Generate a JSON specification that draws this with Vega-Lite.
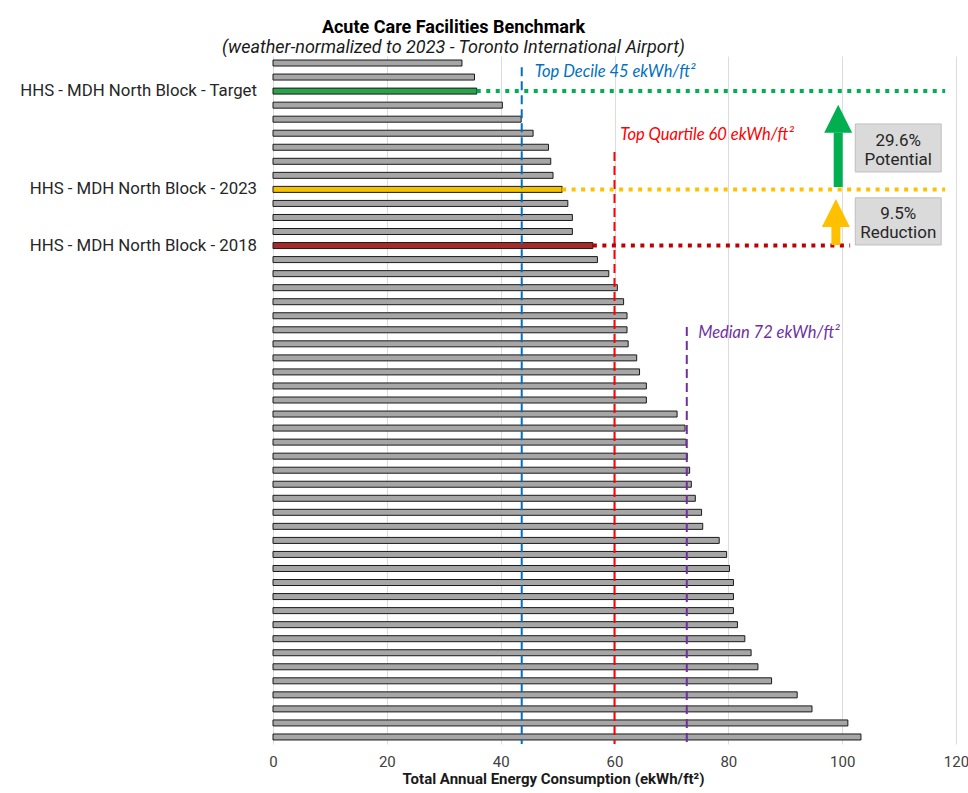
{
  "$schema": "https://vega.github.io/schema/vega-lite/v6.json",
  "autosize": "none",
  "width": 683,
  "height": 688,
  "padding": {"left": 273, "top": 56, "right": 12, "bottom": 49},
  "background": "white",
  "title": {
    "text": "Acute Care Facilities Benchmark",
    "subtitle": "(weather-normalized to 2023 - Toronto International Airport)",
    "anchor": "middle",
    "dx": -161,
    "offset": -1,
    "font": "Roboto",
    "fontSize": 18,
    "fontWeight": "bold",
    "color": "#000000",
    "subtitleFont": "Roboto",
    "subtitleFontSize": 18,
    "subtitleFontStyle": "italic",
    "subtitleColor": "#1a1a1a",
    "subtitlePadding": 2
  },
  "datasets": {
    "facilities": [
      {"rank": 1, "value": 33.2, "kind": "other", "name": "Peer facility 1"},
      {"rank": 2, "value": 35.4, "kind": "other", "name": "Peer facility 2"},
      {"rank": 3, "value": 35.8, "kind": "target", "name": "HHS - MDH North Block - Target"},
      {"rank": 4, "value": 40.3, "kind": "other", "name": "Peer facility 4"},
      {"rank": 5, "value": 43.6, "kind": "other", "name": "Peer facility 5"},
      {"rank": 6, "value": 45.7, "kind": "other", "name": "Peer facility 6"},
      {"rank": 7, "value": 48.4, "kind": "other", "name": "Peer facility 7"},
      {"rank": 8, "value": 48.8, "kind": "other", "name": "Peer facility 8"},
      {"rank": 9, "value": 49.2, "kind": "other", "name": "Peer facility 9"},
      {"rank": 10, "value": 50.8, "kind": "y2023", "name": "HHS - MDH North Block - 2023"},
      {"rank": 11, "value": 51.8, "kind": "other", "name": "Peer facility 11"},
      {"rank": 12, "value": 52.6, "kind": "other", "name": "Peer facility 12"},
      {"rank": 13, "value": 52.6, "kind": "other", "name": "Peer facility 13"},
      {"rank": 14, "value": 56.2, "kind": "y2018", "name": "HHS - MDH North Block - 2018"},
      {"rank": 15, "value": 57.0, "kind": "other", "name": "Peer facility 15"},
      {"rank": 16, "value": 59.0, "kind": "other", "name": "Peer facility 16"},
      {"rank": 17, "value": 60.5, "kind": "other", "name": "Peer facility 17"},
      {"rank": 18, "value": 61.6, "kind": "other", "name": "Peer facility 18"},
      {"rank": 19, "value": 62.2, "kind": "other", "name": "Peer facility 19"},
      {"rank": 20, "value": 62.2, "kind": "other", "name": "Peer facility 20"},
      {"rank": 21, "value": 62.4, "kind": "other", "name": "Peer facility 21"},
      {"rank": 22, "value": 63.9, "kind": "other", "name": "Peer facility 22"},
      {"rank": 23, "value": 64.4, "kind": "other", "name": "Peer facility 23"},
      {"rank": 24, "value": 65.6, "kind": "other", "name": "Peer facility 24"},
      {"rank": 25, "value": 65.6, "kind": "other", "name": "Peer facility 25"},
      {"rank": 26, "value": 71.0, "kind": "other", "name": "Peer facility 26"},
      {"rank": 27, "value": 72.4, "kind": "other", "name": "Peer facility 27"},
      {"rank": 28, "value": 72.6, "kind": "other", "name": "Peer facility 28"},
      {"rank": 29, "value": 72.8, "kind": "other", "name": "Peer facility 29"},
      {"rank": 30, "value": 73.2, "kind": "other", "name": "Peer facility 30"},
      {"rank": 31, "value": 73.5, "kind": "other", "name": "Peer facility 31"},
      {"rank": 32, "value": 74.2, "kind": "other", "name": "Peer facility 32"},
      {"rank": 33, "value": 75.3, "kind": "other", "name": "Peer facility 33"},
      {"rank": 34, "value": 75.5, "kind": "other", "name": "Peer facility 34"},
      {"rank": 35, "value": 78.4, "kind": "other", "name": "Peer facility 35"},
      {"rank": 36, "value": 79.7, "kind": "other", "name": "Peer facility 36"},
      {"rank": 37, "value": 80.2, "kind": "other", "name": "Peer facility 37"},
      {"rank": 38, "value": 80.9, "kind": "other", "name": "Peer facility 38"},
      {"rank": 39, "value": 80.9, "kind": "other", "name": "Peer facility 39"},
      {"rank": 40, "value": 80.9, "kind": "other", "name": "Peer facility 40"},
      {"rank": 41, "value": 81.6, "kind": "other", "name": "Peer facility 41"},
      {"rank": 42, "value": 82.9, "kind": "other", "name": "Peer facility 42"},
      {"rank": 43, "value": 84.0, "kind": "other", "name": "Peer facility 43"},
      {"rank": 44, "value": 85.2, "kind": "other", "name": "Peer facility 44"},
      {"rank": 45, "value": 87.6, "kind": "other", "name": "Peer facility 45"},
      {"rank": 46, "value": 92.1, "kind": "other", "name": "Peer facility 46"},
      {"rank": 47, "value": 94.7, "kind": "other", "name": "Peer facility 47"},
      {"rank": 48, "value": 101.0, "kind": "other", "name": "Peer facility 48"},
      {"rank": 49, "value": 103.3, "kind": "other", "name": "Peer facility 49"}
    ],
    "benchmarks": [
      {"kind": "decile", "value": 43.7, "from": 1.3, "to": 49.5, "label": "Top Decile 45 ekWh/ft²", "labelX": 46.0, "labelY": 1.64},
      {"kind": "quartile", "value": 60.0, "from": 7.34, "to": 49.5, "label": "Top Quartile 60 ekWh/ft²", "labelX": 61.0, "labelY": 6.13},
      {"kind": "median", "value": 72.7, "from": 19.8, "to": 49.5, "label": "Median 72 ekWh/ft²", "labelX": 74.7, "labelY": 20.2}
    ],
    "refLines": [
      {"kind": "target", "rank": 3, "from": 35.8, "to": 118.1},
      {"kind": "y2023", "rank": 10, "from": 50.8, "to": 118.1},
      {"kind": "y2018", "rank": 14, "from": 56.2, "to": 101.4}
    ],
    "arrows": [
      {"kind": "target", "x": 99.3, "base": 9.83, "headBase": 5.95, "head": 4.97},
      {"kind": "y2023", "x": 98.9, "base": 13.96, "headBase": 12.62, "head": 11.68}
    ],
    "boxes": [
      {"label": "29.6%\nPotential", "x1": 102.3, "x2": 117.4, "xc": 109.85, "y1": 5.34, "y2": 8.76, "yc": 7.05},
      {"label": "9.5%\nReduction", "x1": 102.3, "x2": 117.4, "xc": 109.85, "y1": 10.6, "y2": 13.96, "yc": 12.28}
    ]
  },
  "config": {
    "view": {"stroke": null},
    "axisX": {
      "grid": true,
      "gridColor": "#dcdcdc",
      "gridWidth": 1,
      "ticks": false,
      "domain": false,
      "labelFlush": false,
      "labelFont": "Roboto",
      "labelFontSize": 15,
      "labelColor": "#404040",
      "labelPadding": 10,
      "titleFont": "Roboto",
      "titleFontSize": 15,
      "titleFontWeight": "bold",
      "titleColor": "#1a1a1a",
      "titlePadding": 2,
      "titleX": 280,
      "titleAlign": "center",
      "titleAnchor": null
    }
  },
  "layer": [
    {
      "data": {"name": "facilities"},
      "mark": {"type": "bar", "orient": "horizontal", "size": 6, "stroke": "#1a1a1a", "strokeWidth": 1},
      "encoding": {
        "x": {"field": "value", "type": "quantitative", "title": "Total Annual Energy Consumption (ekWh/ft²)",
              "scale": {"domain": [0, 120], "nice": false, "zero": true},
              "axis": {"values": [0, 20, 40, 60, 80, 100, 120]}},
        "y": {"field": "rank", "type": "quantitative", "axis": null,
              "scale": {"domain": [0.5, 49.5], "nice": false, "zero": false, "reverse": true, "padding": 0}},
        "fill": {"field": "kind", "type": "nominal", "legend": null,
                 "scale": {"domain": ["other", "target", "y2023", "y2018"], "range": ["#a6a6a6", "#2ca24c", "#f2c200", "#a52a2a"]}}
      }
    },
    {
      "data": {"name": "benchmarks"},
      "mark": {"type": "rule", "strokeWidth": 2, "strokeDash": [9, 5]},
      "encoding": {
        "x": {"field": "value", "type": "quantitative", "title": "Total Annual Energy Consumption (ekWh/ft²)"},
        "y": {"field": "from", "type": "quantitative", "axis": null},
        "y2": {"field": "to"},
        "color": {"field": "kind", "type": "nominal", "legend": null,
                  "scale": {"domain": ["decile", "quartile", "median", "target", "y2023", "y2018"], "range": ["#0070c0", "#ff0000", "#7030a0", "#00b050", "#ffc000", "#c00000"]}}
      }
    },
    {
      "data": {"name": "benchmarks"},
      "mark": {"type": "text", "align": "left", "baseline": "middle", "font": "Lato", "fontSize": 16.5, "fontStyle": "italic"},
      "encoding": {
        "x": {"field": "labelX", "type": "quantitative", "title": "Total Annual Energy Consumption (ekWh/ft²)"},
        "y": {"field": "labelY", "type": "quantitative", "axis": null},
        "text": {"field": "label"},
        "color": {"field": "kind", "type": "nominal", "legend": null}
      }
    },
    {
      "data": {"name": "refLines"},
      "mark": {"type": "rule", "strokeWidth": 4, "strokeDash": [4, 5.5], "strokeCap": "butt"},
      "encoding": {
        "x": {"field": "from", "type": "quantitative", "title": "Total Annual Energy Consumption (ekWh/ft²)"},
        "x2": {"field": "to"},
        "y": {"field": "rank", "type": "quantitative", "axis": null},
        "color": {"field": "kind", "type": "nominal", "legend": null}
      }
    },
    {
      "data": {"name": "arrows"},
      "mark": {"type": "rule", "strokeWidth": 9, "strokeCap": "butt"},
      "encoding": {
        "x": {"field": "x", "type": "quantitative", "title": "Total Annual Energy Consumption (ekWh/ft²)"},
        "y": {"field": "base", "type": "quantitative", "axis": null},
        "y2": {"field": "headBase"},
        "color": {"field": "kind", "type": "nominal", "legend": null}
      }
    },
    {
      "data": {"name": "arrows"},
      "mark": {"type": "point", "shape": "M-1,1L0,-1L1,1Z", "size": 784, "filled": true, "opacity": 1, "strokeWidth": 0},
      "encoding": {
        "x": {"field": "x", "type": "quantitative", "title": "Total Annual Energy Consumption (ekWh/ft²)"},
        "y": {"field": "head", "type": "quantitative", "axis": null},
        "color": {"field": "kind", "type": "nominal", "legend": null}
      }
    },
    {
      "data": {"name": "boxes"},
      "mark": {"type": "rect", "fill": "#dadada", "stroke": "#bfbfbf", "strokeWidth": 1},
      "encoding": {
        "x": {"field": "x1", "type": "quantitative", "title": "Total Annual Energy Consumption (ekWh/ft²)"},
        "x2": {"field": "x2"},
        "y": {"field": "y1", "type": "quantitative", "axis": null},
        "y2": {"field": "y2"}
      }
    },
    {
      "data": {"name": "boxes"},
      "mark": {"type": "text", "align": "center", "baseline": "middle", "dy": -7, "font": "Roboto", "fontSize": 17, "lineBreak": "\n", "lineHeight": 19, "color": "#262626"},
      "encoding": {
        "x": {"field": "xc", "type": "quantitative", "title": "Total Annual Energy Consumption (ekWh/ft²)"},
        "y": {"field": "yc", "type": "quantitative", "axis": null},
        "text": {"field": "label"}
      }
    },
    {
      "data": {"name": "facilities"},
      "transform": [{"filter": "datum.kind != 'other'"}],
      "mark": {"type": "text", "align": "right", "baseline": "middle", "dx": -16, "font": "Roboto", "fontSize": 16.8, "color": "#262626"},
      "encoding": {
        "x": {"datum": 0, "type": "quantitative"},
        "y": {"field": "rank", "type": "quantitative", "axis": null},
        "text": {"field": "name"}
      }
    }
  ]
}
